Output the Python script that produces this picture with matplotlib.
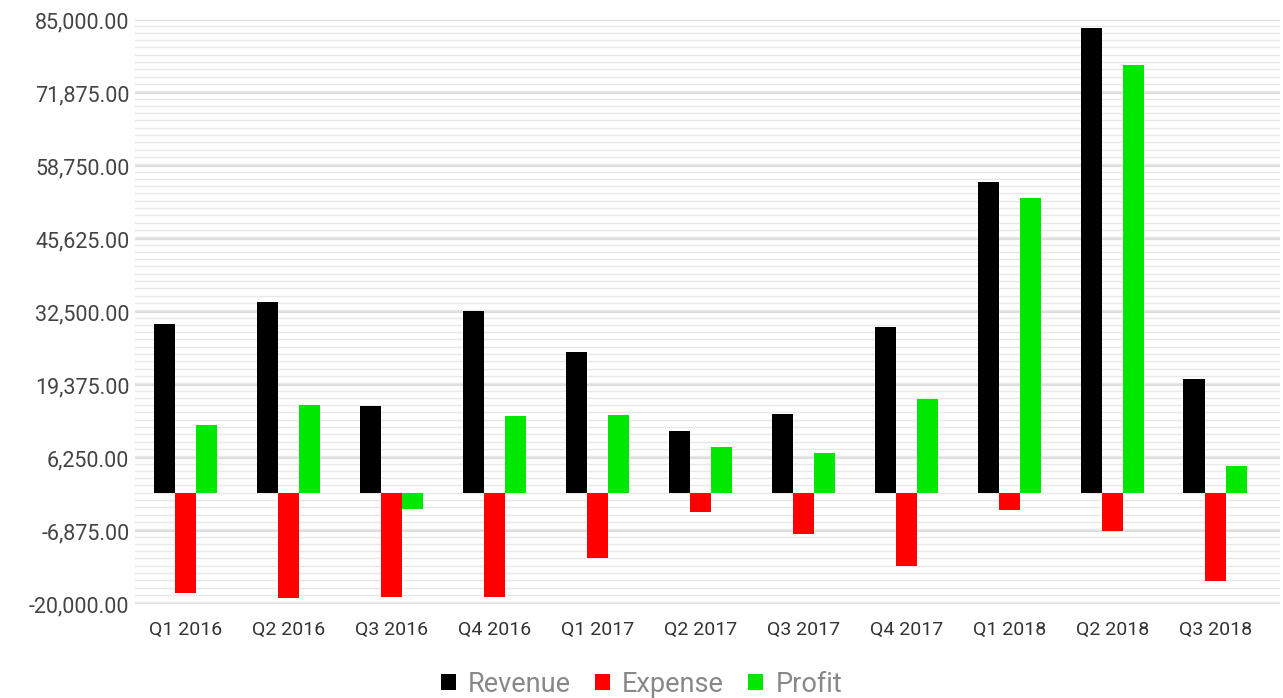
import matplotlib
matplotlib.use('Agg')
import matplotlib.pyplot as plt
from matplotlib.ticker import MultipleLocator, FuncFormatter
import numpy as np

quarters = ['Q1 2016', 'Q2 2016', 'Q3 2016', 'Q4 2016', 'Q1 2017', 'Q2 2017',
            'Q3 2017', 'Q4 2017', 'Q1 2018', 'Q2 2018', 'Q3 2018']
revenue = [30400, 34300, 15600, 32600, 25300, 11100, 14100, 29800, 55800, 83500, 20400]
expense = [-18100, -19000, -18700, -18700, -11700, -3500, -7400, -13200, -3100, -6900, -15900]
profit = [12200, 15700, -2900, 13800, 14000, 8200, 7100, 16800, 53000, 76900, 4800]

y_ticks = [-20000, -6875, 6250, 19375, 32500, 45625, 58750, 71875, 85000]

plt.rcParams['font.family'] = ['Roboto', 'DejaVu Sans']

fig = plt.figure(figsize=(12.83, 6.98), dpi=100)
ax = fig.add_axes([135 / 1283, 1 - 604 / 698, (1280 - 135) / 1283, (604 - 20) / 698])

x = np.arange(len(quarters))
w = 0.205
ax.bar(x - w, revenue, w, color='black', label='Revenue', zorder=3)
ax.bar(x, expense, w, color='#ff0000', label='Expense', zorder=3)
ax.bar(x + w, profit, w, color='#00e800', label='Profit', zorder=3)

ax.set_xlim(-0.49, 10.63)
ax.set_ylim(-20000, 85000)
ax.set_yticks(y_ticks)
ax.yaxis.set_minor_locator(MultipleLocator(1312.5))
ax.yaxis.set_major_formatter(FuncFormatter(lambda v, p: '{:,.2f}'.format(v)))
ax.set_xticks(x)
ax.set_xticklabels(quarters)

ax.grid(axis='y', which='major', color='#dddddd', linewidth=1.6, zorder=0)
ax.grid(axis='y', which='minor', color='#e8e8e8', linewidth=1.0, zorder=0)
ax.tick_params(axis='both', which='both', length=0)
ax.tick_params(axis='y', labelsize=15.5, labelcolor='#444444', pad=4)
ax.tick_params(axis='x', labelsize=14, labelcolor='#333333', pad=12)
for s in ax.spines.values():
    s.set_visible(False)

fig.legend(loc='center', bbox_to_anchor=(0.5, 1 - 684 / 698), ncol=3, frameon=False,
           fontsize=19.5, labelcolor='#888888', handlelength=0.55, handleheight=0.55,
           handletextpad=0.45, columnspacing=0.9)

fig.savefig('out.png', dpi=100)
